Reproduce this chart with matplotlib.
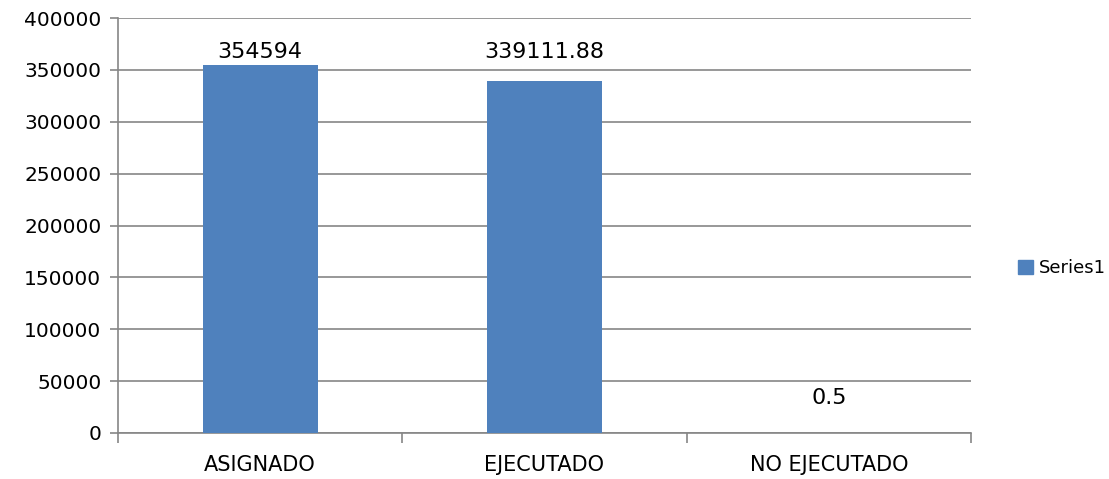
import matplotlib.pyplot as plt
from matplotlib.patches import Patch

# data
categories = ["ASIGNADO", "EJECUTADO", "NO EJECUTADO"]
values = [354594, 339111.88, 0.5]
value_labels = ["354594", "339111.88", "0.5"]
y_ticks = [0, 50000, 100000, 150000, 200000, 250000, 300000, 350000, 400000]

plt.rcParams['font.family'] = ['DejaVu Sans']
grid_col = '#868686'
bar_col = '#4F81BD'

fig = plt.figure(figsize=(11.09, 4.79), dpi=100)
ax = fig.add_axes([118 / 1109, 1 - 433 / 479, (971 - 118) / 1109, (433 - 18) / 479])

x = list(range(len(categories)))
ax.bar(x, values, width=0.405, color=bar_col, zorder=3)

ax.set_xlim(-0.5, len(categories) - 0.5)
ax.set_ylim(0, 400000)
ax.set_yticks(y_ticks)
ax.set_yticklabels([str(t) for t in y_ticks], fontsize=14.5)
ax.yaxis.grid(True, color=grid_col, linewidth=1.2, zorder=0)

# category labels centred, tick marks between categories
ax.set_xticks(x)
ax.set_xticklabels(categories, fontsize=15)
ax.tick_params(axis='x', length=0, pad=16)
ax.set_xticks([i - 0.5 for i in range(len(categories) + 1)], minor=True)
ax.tick_params(axis='x', which='minor', length=7, width=1.2, color=grid_col, direction='out')
ax.tick_params(axis='y', length=6, width=1.2, color=grid_col, direction='out', pad=6)

for side in ['top', 'right']:
    ax.spines[side].set_visible(False)
for side in ['left', 'bottom']:
    ax.spines[side].set_color(grid_col)
    ax.spines[side].set_linewidth(1.2)

# value labels above each bar (Excel puts the first two on the same line)
offsets = [2, 14, 18]
for xi, v, lab, off in zip(x, values, value_labels, offsets):
    ax.annotate(lab, (xi, v), xytext=(0, off), textcoords='offset points',
                ha='center', va='bottom', fontsize=16)

fig.legend(handles=[Patch(color=bar_col, label='Series1')], loc='center left',
           bbox_to_anchor=(1009 / 1109, 1 - 268 / 479), frameon=False, borderpad=0,
           fontsize=13, handlelength=0.83, handleheight=0.83, handletextpad=0.33)

fig.savefig('out.png', dpi=100)
